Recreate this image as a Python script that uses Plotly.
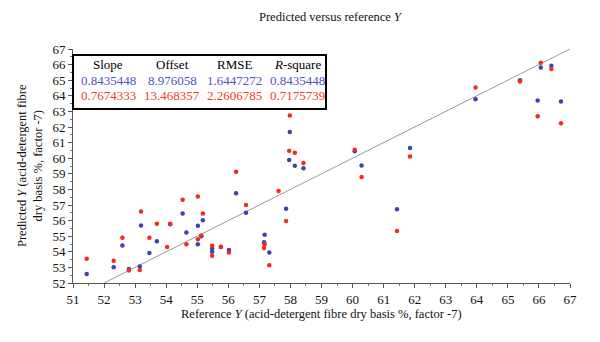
import plotly.graph_objects as go

# Reference values (x) and predicted values for two models (blue / red)
ref_x = [51.44, 52.31, 52.59, 52.80, 53.15, 53.19, 53.46, 53.70, 54.03, 54.13,
         54.53, 54.65, 55.02, 55.02, 55.13, 55.18, 55.48, 55.48, 55.76, 56.02,
         56.25, 56.57, 57.17, 57.15, 57.32, 57.62, 57.86, 57.98, 57.96, 58.14,
         58.42, 60.07, 60.29, 61.43, 61.85, 63.96, 65.39, 65.96, 66.06, 66.40,
         66.71]
pred_blue = [52.58, 53.01, 54.40, 52.90, 53.05, 55.69, 53.93, 54.68, None, 55.76,
             56.46, 55.24, 55.67, 54.49, 55.00, 56.03, 54.21, 54.00, 54.30, 54.11,
             57.75, 56.50, 55.09, 54.62, 53.95, None, 56.76, 61.68, 59.88, 59.52,
             59.36, 60.44, 59.53, 56.72, 60.65, 63.78, 64.99, 63.70, 65.82, 65.93,
             63.63]
pred_red = [53.55, 53.42, 54.90, 52.80, 52.84, 56.59, 54.90, 55.80, 54.30, 55.80,
            57.34, 54.49, 57.54, 54.81, 55.05, 56.46, 54.38, 53.74, 54.32, 53.96,
            59.13, 57.00, 54.49, 54.24, 53.14, 57.90, 55.97, 62.73, 60.48, 60.35,
            59.70, 60.54, 58.80, 55.33, 60.11, 64.54, 64.92, 62.69, 66.12, 65.72,
            62.24]

line_x = [52, 67]
line_y = [52, 67]

table_headers = ["Slope", "Offset", "RMSE", "<i>R</i>-square"]
blue_stats = ["0.8435448", "8.976058", "1.6447272", "0.8435448"]
red_stats = ["0.7674333", "13.468357", "2.2606785", "0.7175739"]

x_ticks = list(range(51, 68))
y_ticks = list(range(52, 68))

BLUE = "#3a44b0"
RED = "#f52a22"
TBLUE = "#4a55c0"
TRED = "#f0401f"
FONT = "Liberation Serif"

fig = go.Figure()
fig.add_trace(go.Scatter(x=line_x, y=line_y, mode="lines",
                         line=dict(color="#9a9a9a", width=1), showlegend=False,
                         hoverinfo="skip"))
fig.add_trace(go.Scatter(x=ref_x, y=pred_blue, mode="markers",
                         marker=dict(color=BLUE, size=4.5), showlegend=False))
fig.add_trace(go.Scatter(x=ref_x, y=pred_red, mode="markers",
                         marker=dict(color=RED, size=4.5), showlegend=False))

axis_common = dict(showgrid=False, zeroline=False, showline=True,
                   linecolor="#555555", linewidth=1, ticks="outside",
                   ticklen=4, tickcolor="#555555",
                   tickfont=dict(family=FONT, size=13, color="#111111"),
                   minor=dict(dtick=0.5, ticks="outside", ticklen=2,
                              tickcolor="#777777"))

fig.update_xaxes(range=[51, 67], tickvals=x_ticks, **axis_common)
fig.update_yaxes(range=[52, 67], tickvals=y_ticks, **axis_common)

# Table box
fig.add_shape(type="rect", xref="paper", yref="paper",
              x0=0.0, x1=(326 - 73) / 497, y0=(283 - 109) / 234,
              y1=(283 - 55) / 234, line=dict(color="black", width=2),
              fillcolor="white", layer="above")
col_px = [108, 172, 234, 297]
row_y = [66, 65, 64]
rows = [(table_headers, "black"), (blue_stats, TBLUE), (red_stats, TRED)]
for (texts, color), yv in zip(rows, row_y):
    for t, cx in zip(texts, col_px):
        fig.add_annotation(x=(cx - 73) / 497, xref="paper", y=yv, yref="y",
                           text=t, showarrow=False, xanchor="center",
                           yanchor="middle",
                           font=dict(family=FONT, size=13, color=color))

# Titles
fig.add_annotation(x=0.52, xref="paper", y=1, yref="paper", yshift=32,
                   yanchor="middle",
                   text="Predicted versus reference <i>Y</i>", showarrow=False,
                   font=dict(family=FONT, size=12.5, color="#111111"))
fig.add_annotation(x=0.5, xref="paper", y=0, yref="paper", yshift=-22,
                   yanchor="top",
                   text="Reference <i>Y</i> (acid-detergent fibre dry basis %, factor -7)",
                   showarrow=False,
                   font=dict(family=FONT, size=12.5, color="#111111"))
fig.add_annotation(x=0, xref="paper", y=0.5, yref="paper", xshift=-43,
                   xanchor="center", yanchor="middle",
                   text="Predicted <i>Y</i> (acid-detergent fibre<br>dry basis %, factor -7)",
                   textangle=-90, showarrow=False,
                   font=dict(family=FONT, size=12.5, color="#111111"))

fig.update_layout(width=600, height=342, plot_bgcolor="white",
                  paper_bgcolor="white",
                  margin=dict(l=73, r=30, t=49, b=59))

fig.write_html("out.html")
